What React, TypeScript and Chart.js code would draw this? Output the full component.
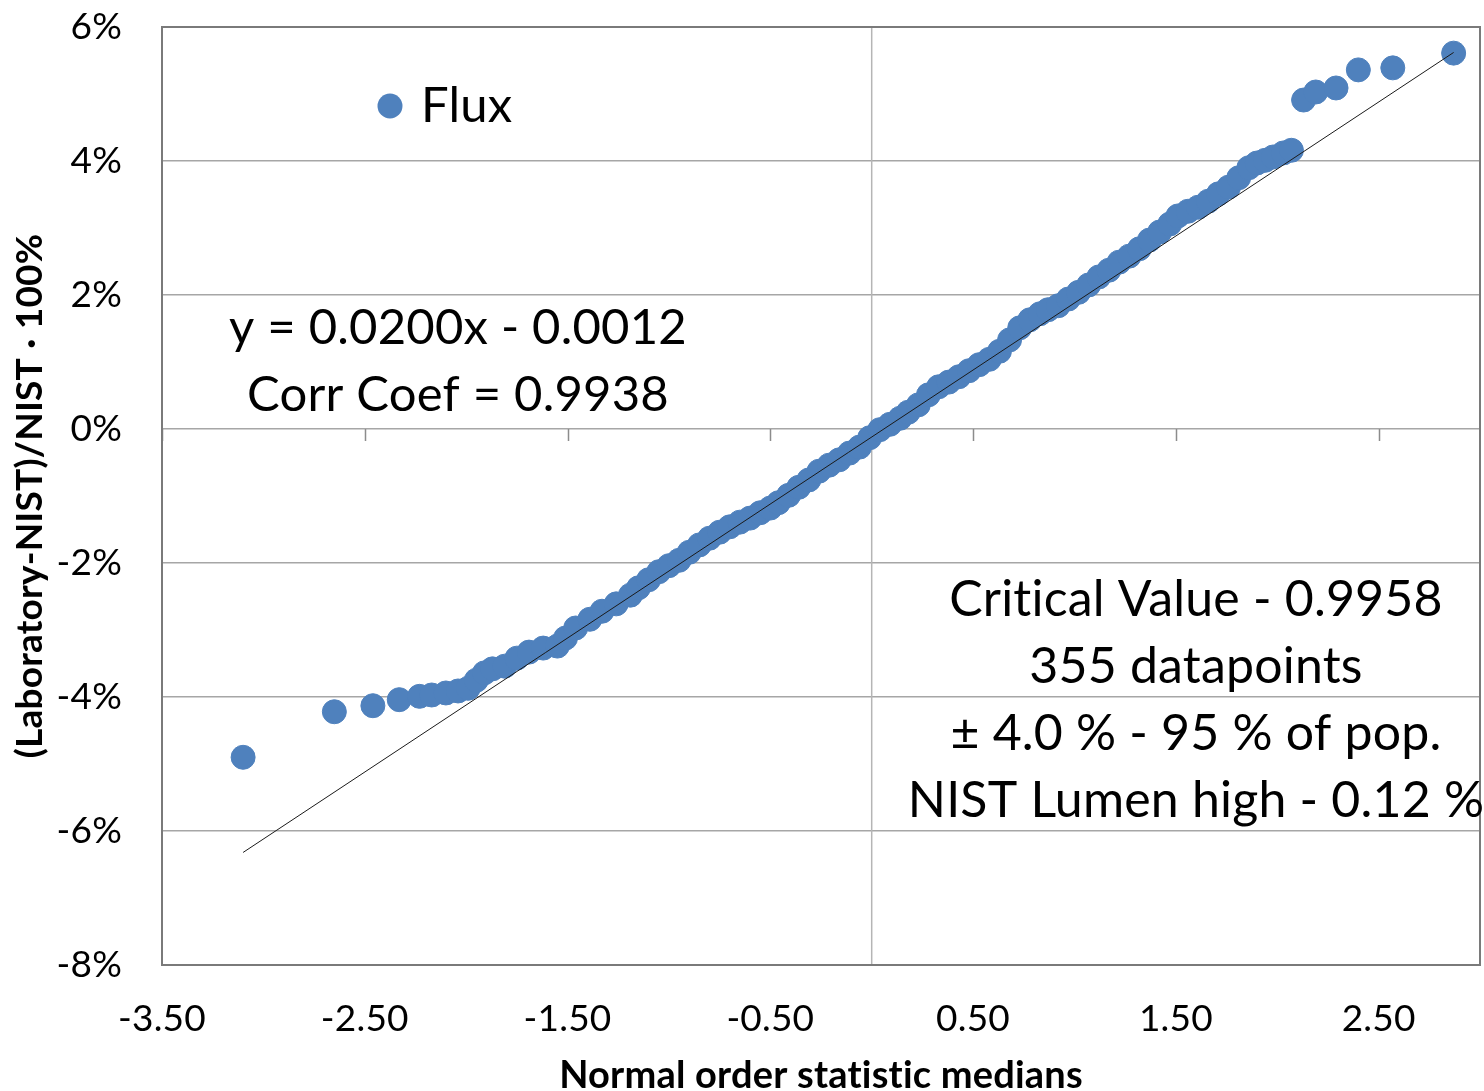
import React, { useEffect, useRef } from 'react';
import { Chart, registerables } from 'chart.js';

Chart.register(...registerables);

// ---- data ----
const X_VALUES = [
  -3.10, -2.65, -2.46, -2.33, -2.23, -2.17, -2.10, -2.04, -1.99, -1.95,
  -1.91, -1.87, -1.81, -1.75, -1.69, -1.62, -1.55, -1.51, -1.46, -1.39,
  -1.33, -1.26, -1.19, -1.15, -1.10, -1.05, -1.00, -0.95, -0.90, -0.85,
  -0.80, -0.75, -0.70, -0.65, -0.60, -0.55, -0.50, -0.46, -0.41, -0.36,
  -0.31, -0.26, -0.21, -0.16, -0.11, -0.06, -0.01, 0.04, 0.09, 0.14,
  0.18, 0.23, 0.28, 0.33, 0.38, 0.43, 0.48, 0.53, 0.58, 0.63,
  0.68, 0.73, 0.78, 0.83, 0.87, 0.92, 0.97, 1.02, 1.07, 1.12,
  1.17, 1.22, 1.27, 1.32, 1.37, 1.42, 1.47, 1.51, 1.56, 1.61,
  1.66, 1.71, 1.76, 1.81, 1.86, 1.90, 1.94, 1.98, 2.03, 2.07,
  2.13, 2.19, 2.29, 2.40, 2.57, 2.87,
];
const Y_VALUES = [
  -4.90, -4.22, -4.13, -4.04, -3.99, -3.97, -3.94, -3.91, -3.87, -3.75,
  -3.64, -3.58, -3.54, -3.42, -3.33, -3.27, -3.24, -3.12, -2.97, -2.84,
  -2.72, -2.61, -2.48, -2.37, -2.25, -2.13, -2.04, -1.96, -1.84, -1.73,
  -1.63, -1.54, -1.46, -1.39, -1.33, -1.25, -1.18, -1.10, -0.99, -0.87,
  -0.76, -0.63, -0.54, -0.46, -0.36, -0.27, -0.13, -0.01, 0.07, 0.16,
  0.25, 0.36, 0.51, 0.63, 0.70, 0.78, 0.87, 0.96, 1.04, 1.16,
  1.33, 1.51, 1.63, 1.72, 1.78, 1.84, 1.94, 2.04, 2.15, 2.27,
  2.37, 2.49, 2.58, 2.69, 2.82, 2.94, 3.06, 3.18, 3.25, 3.31,
  3.40, 3.51, 3.61, 3.75, 3.90, 3.97, 4.01, 4.06, 4.12, 4.16,
  4.91, 5.03, 5.09, 5.36, 5.39, 5.61,
];
const TREND_X = [-3.10, 2.87];
const TREND_Y = [-6.32, 5.62];
const X_TICKS = [-3.5, -2.5, -1.5, -0.5, 0.5, 1.5, 2.5];
const X_MIN = -3.5;
const X_MAX = 3.0;
const Y_MIN = -8;
const Y_MAX = 6;
const Y_STEP = 2;
const SERIES_NAME = 'Flux';
const X_TITLE = 'Normal order statistic medians';
const Y_TITLE = '(Laboratory-NIST)/NIST \u00B7 100%';
const EQUATION_LINES = ['y = 0.0200x - 0.0012', 'Corr Coef = 0.9938'];
const STATS_LINES = [
  'Critical Value - 0.9958',
  '355 datapoints',
  '\u00B1 4.0 % - 95 % of pop.',
  'NIST Lumen high - 0.12 %',
];

const BLUE = '#4f81bd';
const FONT = 'Lato, "Open Sans", sans-serif';

const decorPlugin = {
  id: 'decor',
  beforeDraw(chart: any) {
    try {
      chart.ctx.letterSpacing = '0.2px';
    } catch (e) {
      /* ignore */
    }
  },
  beforeDatasetsDraw(chart: any) {
    const { ctx, chartArea: a, scales } = chart;
    const x = scales.x;
    const y = scales.y;
    ctx.save();
    const x0 = x.getPixelForValue(0);
    const y0 = y.getPixelForValue(0);
    ctx.strokeStyle = '#b5b5b5';
    ctx.lineWidth = 1.5;
    ctx.beginPath();
    ctx.moveTo(x0, a.top);
    ctx.lineTo(x0, a.bottom);
    ctx.stroke();
    ctx.strokeStyle = '#8c8c8c';
    ctx.beginPath();
    X_TICKS.forEach((v) => {
      const px = Math.round(x.getPixelForValue(v)) + 0.5;
      ctx.moveTo(px, y0);
      ctx.lineTo(px, y0 + 12);
    });
    ctx.stroke();
    ctx.restore();
  },
  afterDraw(chart: any) {
    const { ctx, chartArea: a } = chart;
    ctx.save();
    ctx.strokeStyle = '#7a7a7a';
    ctx.lineWidth = 2;
    ctx.strokeRect(a.left, a.top, a.right - a.left, a.bottom - a.top);

    ctx.fillStyle = '#000';
    ctx.textAlign = 'center';
    ctx.textBaseline = 'middle';
    ctx.font = `49px ${FONT}`;
    EQUATION_LINES.forEach((t, i) => ctx.fillText(t, a.left + 296, a.top + 301 + i * 67));
    ctx.font = `50px ${FONT}`;
    STATS_LINES.forEach((t, i) => ctx.fillText(t, a.left + 1034, a.top + 573 + i * 67));

    // legend
    ctx.fillStyle = BLUE;
    ctx.beginPath();
    ctx.arc(a.left + 228, a.top + 79, 12.5, 0, Math.PI * 2);
    ctx.fill();
    ctx.fillStyle = '#000';
    ctx.textAlign = 'left';
    ctx.font = `49px ${FONT}`;
    ctx.fillText(SERIES_NAME, a.left + 259, a.top + 79);
    ctx.restore();
  },
};

export default function App() {
  const ref = useRef<HTMLCanvasElement | null>(null);
  useEffect(() => {
    if (!ref.current) return;
    const points = X_VALUES.map((v, i) => ({ x: v, y: Y_VALUES[i] }));
    const trend = TREND_X.map((v, i) => ({ x: v, y: TREND_Y[i] }));
    const chart = new Chart(ref.current, {
      type: 'scatter',
      data: {
        datasets: [
          {
            type: 'line',
            label: 'Trend',
            data: trend,
            borderColor: '#1a1a1a',
            borderWidth: 1,
            pointRadius: 0,
            showLine: true,
            fill: false,
          } as any,
          {
            label: SERIES_NAME,
            data: points,
            backgroundColor: BLUE,
            borderColor: BLUE,
            borderWidth: 1,
            pointRadius: 12,
            pointHoverRadius: 12,
          },
        ],
      },
      options: {
        animation: false,
        responsive: false,
        devicePixelRatio: 1,
        layout: { autoPadding: false, padding: { top: 27, right: 4, left: 0, bottom: 0 } },
        plugins: { legend: { display: false }, tooltip: { enabled: false } },
        scales: {
          x: {
            type: 'linear',
            min: X_MIN,
            max: X_MAX,
            grid: { display: false },
            border: { display: false },
            afterBuildTicks: (s: any) => {
              s.ticks = X_TICKS.map((v) => ({ value: v }));
            },
            afterFit: (s: any) => {
              s.height = 126;
              s.paddingLeft = 0;
              s.paddingRight = 0;
            },
            ticks: {
              color: '#000',
              font: { family: FONT, size: 37 },
              padding: 24,
              maxRotation: 0,
              autoSkip: false,
              callback: (v: any) => Number(v).toFixed(2),
            },
            title: {
              display: true,
              text: X_TITLE,
              color: '#000',
              font: { family: FONT, size: 38, weight: 'bold', lineHeight: 1 },
              padding: { top: 0, bottom: -4 },
            },
          },
          y: {
            type: 'linear',
            min: Y_MIN,
            max: Y_MAX,
            border: { display: false },
            grid: { color: '#a6a6a6', lineWidth: 1.5, drawTicks: false },
            afterFit: (s: any) => {
              s.width = 162;
              s.paddingTop = 0;
              s.paddingBottom = 0;
            },
            ticks: {
              stepSize: Y_STEP,
              color: '#000',
              font: { family: FONT, size: 37 },
              padding: 40,
              callback: (v: any) => `${v}%`,
            },
            title: {
              display: true,
              text: Y_TITLE,
              color: '#000',
              font: { family: FONT, size: 37, weight: 'bold', lineHeight: 1 },
              padding: { top: 12, bottom: 0 },
            },
          },
        },
      },
      plugins: [decorPlugin],
    });
    return () => chart.destroy();
  }, []);
  return (
    <div style={{ position: 'fixed', left: 0, top: 0, width: 1484, height: 1091, background: '#fff' }}>
      <canvas ref={ref} width={1484} height={1091} />
    </div>
  );
}
